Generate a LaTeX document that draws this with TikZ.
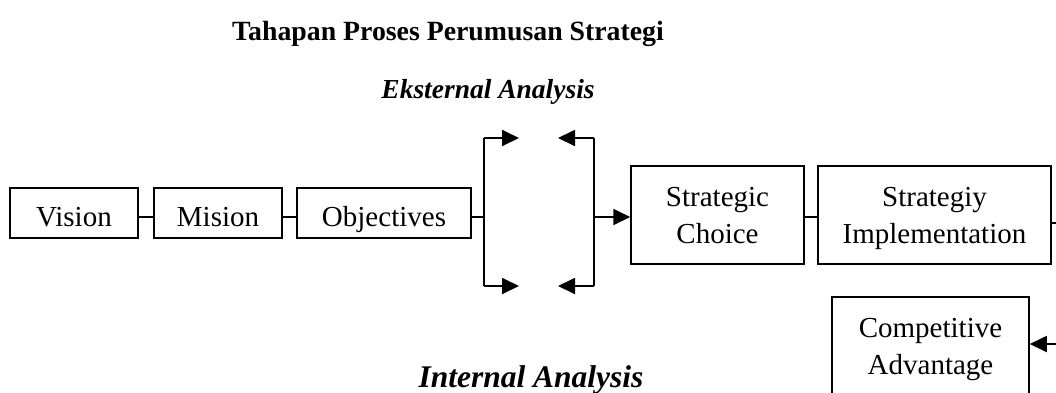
\documentclass[tikz,border=0pt]{standalone}
\usepackage{fontspec}
\setmainfont{Liberation Serif}
\usetikzlibrary{arrows.meta}
\begin{document}
\begin{tikzpicture}[x=1pt,y=-1pt,
  box/.style={draw,line width=1.5pt,rectangle,inner sep=0pt,
    font=\fontsize{29}{37}\selectfont},
  onebox/.style={box,minimum height=50pt,text height=26pt,text depth=0pt},
  twobox/.style={box,minimum height=98pt,align=center,text depth=0pt},
  link/.style={line width=1.3pt},
  brace/.style={line width=1.8pt},
  tip/.style={line width=1.8pt,-{Triangle[length=17pt,width=16pt]}},
  heading/.style={anchor=base,inner sep=0pt,font=\fontsize{27.8}{30}\selectfont\bfseries}]
\useasboundingbox (0,0) rectangle (1056,392);
\clip (0,0) rectangle (1056,392);

% titles
\node[heading] (title) at (448,40) {Tahapan Proses Perumusan Strategi};
\node[heading,font=\fontsize{27.5}{30}\selectfont\bfseries\itshape] (ext) at (488,98) {Eksternal Analysis};
\node[heading,font=\fontsize{31.5}{34}\selectfont\bfseries\itshape] (int) at (531,387) {Internal Analysis};

% first row of boxes
\node[onebox,minimum width=128pt] (vis) at (74,213) {Vision};
\node[onebox,minimum width=128pt] (mis) at (218,213) {Mision};
\node[onebox,minimum width=174pt] (obj) at (384,213) {Objectives};

% later stages
\node[twobox,minimum width=173pt] (sc) at (717.5,215) {Strategic\\Choice};
\node[twobox,minimum width=233pt] (si) at (934.5,215) {Strategiy\\Implementation};
\node[twobox,minimum width=197pt] (ca) at (930.5,346) {Competitive\\Advantage};

% bracket points
\coordinate (lb) at (484,217);
\coordinate (lt) at (484,138);
\coordinate (lbot) at (484,286);
\coordinate (ltip) at (519,138);
\coordinate (lbtip) at (519,286);
\coordinate (rb) at (594,217);
\coordinate (rt) at (594,138);
\coordinate (rbot) at (594,286);
\coordinate (rtip) at (558,138);
\coordinate (rbtip) at (558,286);
\coordinate (siout) at (1058,223);
\coordinate (cain) at (1058,344);

% connectors
\draw[link] (vis.east |- lb) -- (mis.west |- lb);
\draw[link] (mis.east |- lb) -- (obj.west |- lb);
\draw[link] (obj.east |- lb) -- (lb);
\draw[brace] (lt) -- (lbot);
\draw[brace] (rt) -- (rbot);
\draw[tip] (lt) -- (ltip);
\draw[tip] (lbot) -- (lbtip);
\draw[tip] (rt) -- (rtip);
\draw[tip] (rbot) -- (rbtip);
\draw[tip] (rb) -- (sc.west |- rb);
\draw[link] (sc.east |- rb) -- (si.west |- rb);
\draw[link] (si.east |- siout) -- (siout);
\draw[tip] (cain) -- (ca.east |- cain);
\end{tikzpicture}
\end{document}
